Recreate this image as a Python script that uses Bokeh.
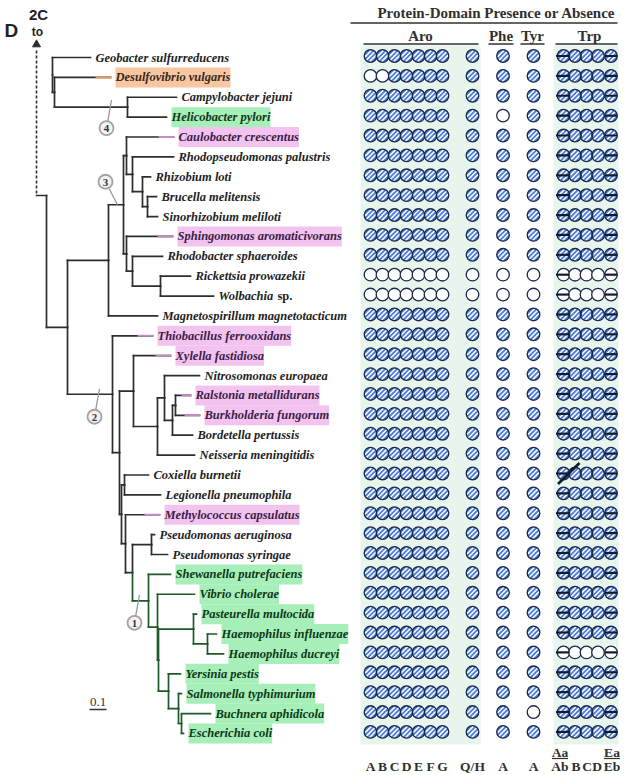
import math
from bokeh.plotting import figure
from bokeh.models import Range1d
from bokeh.core.properties import value
from bokeh.embed import file_html
from bokeh.resources import INLINE

# ---------------- data ----------------
SPECIES = [
    "Geobacter sulfurreducens", "Desulfovibrio vulgaris", "Campylobacter jejuni", "Helicobacter pylori",
    "Caulobacter crescentus", "Rhodopseudomonas palustris", "Rhizobium loti", "Brucella melitensis",
    "Sinorhizobium meliloti", "Sphingomonas aromaticivorans", "Rhodobacter sphaeroides", "Rickettsia prowazekii",
    "Wolbachia sp.", "Magnetospirillum magnetotacticum", "Thiobacillus ferrooxidans", "Xylella fastidiosa",
    "Nitrosomonas europaea", "Ralstonia metallidurans", "Burkholderia fungorum", "Bordetella pertussis",
    "Neisseria meningitidis", "Coxiella burnetii", "Legionella pneumophila", "Methylococcus capsulatus",
    "Pseudomonas aeruginosa", "Pseudomonas syringae", "Shewanella putrefaciens", "Vibrio cholerae",
    "Pasteurella multocida", "Haemophilus influenzae", "Haemophilus ducreyi", "Yersinia pestis",
    "Salmonella typhimurium", "Buchnera aphidicola", "Escherichia coli",
]
HILITE = [
    "", "orange", "", "green",
    "pink", "", "", "",
    "", "pink", "", "",
    "", "", "pink", "pink",
    "", "pink", "pink", "",
    "", "", "", "pink",
    "", "", "green", "green",
    "green", "green", "green", "green",
    "green", "green", "green",
]
# x (tree units = px) where each terminal branch ends
TIP_X = [
    90, 110, 176, 166,
    173, 173, 150, 156,
    157, 172, 162, 190,
    213, 157, 152, 170,
    199, 190, 199, 192,
    194, 148, 160, 159,
    154, 167, 170, 194,
    196, 216, 223, 180,
    181, 210, 183,
]
# internal nodes: (name, x, children)
NODES = [
    ("n_geo", 52, ["Geobacter sulfurreducens", "n_des"]),
    ("n_des", 54, ["Desulfovibrio vulgaris", "n_eps"]),
    ("n_eps", 127, ["Campylobacter jejuni", "Helicobacter pylori"]),
    ("n_main", 67, ["n_alpha", "n_bg"]),
    ("n_alpha", 108, ["n_a2", "Magnetospirillum magnetotacticum"]),
    ("n_a2", 123, ["n_caul", "n_sph"]),
    ("n_caul", 126, ["Caulobacter crescentus", "n_rhodops"]),
    ("n_rhodops", 132, ["Rhodopseudomonas palustris", "n_rhiz"]),
    ("n_rhiz", 142, ["Rhizobium loti", "n_bruc"]),
    ("n_bruc", 147, ["Brucella melitensis", "Sinorhizobium meliloti"]),
    ("n_sph", 126, ["Sphingomonas aromaticivorans", "n_rhodob"]),
    ("n_rhodob", 132, ["Rhodobacter sphaeroides", "n_rick"]),
    ("n_rick", 160, ["Rickettsia prowazekii", "Wolbachia sp."]),
    ("n_bg", 112, ["Thiobacillus ferrooxidans", "n_x"]),
    ("n_x", 119, ["n_xyl", "n_g"]),
    ("n_xyl", 133, ["Xylella fastidiosa", "n_nit2"]),
    ("n_nit2", 157, ["n_b1", "Neisseria meningitidis"]),
    ("n_b1", 164, ["Nitrosomonas europaea", "n_b2"]),
    ("n_b2", 172, ["n_ral", "Bordetella pertussis"]),
    ("n_ral", 175, ["Ralstonia metallidurans", "Burkholderia fungorum"]),
    ("n_g", 121, ["n_cox", "n_meth"]),
    ("n_cox", 124, ["Coxiella burnetii", "Legionella pneumophila"]),
    ("n_meth", 125, ["Methylococcus capsulatus", "n_ps_gam"]),
    ("n_ps_gam", 132, ["n_pseudo", "n_gam"]),
    ("n_pseudo", 151, ["Pseudomonas aeruginosa", "Pseudomonas syringae"]),
    ("n_gam", 148, ["Shewanella putrefaciens", "n_g2"]),
    ("n_g2", 157, ["Vibrio cholerae", "n_g3"]),
    ("n_g3", 158, ["n_past", "n_ent"]),
    ("n_past", 193, ["Pasteurella multocida", "n_haem"]),
    ("n_haem", 207, ["Haemophilus influenzae", "Haemophilus ducreyi"]),
    ("n_ent", 168, ["Yersinia pestis", "n_ent2"]),
    ("n_ent2", 178, ["Salmonella typhimurium", "n_ec"]),
    ("n_ec", 181, ["Buchnera aphidicola", "Escherichia coli"]),
]
ROOT_CHILD = "n_main"
GREEN_CLADE = "n_gam"
DOTTED_TIPS = ["Buchnera aphidicola"]
MARK_TEXT = ["4", "3", "2", "1"]
MARK_NODE = ["n_eps", "n_a2", "n_bg", "n_gam"]
SCALE_VALUE = 0.1
PX_PER_UNIT = 170

# presence (1) / absence (0) of protein domains
ARO = [
    "1111111", "0011111", "1111111", "1111111", "1111111", "1111111", "1111111",
    "1111111", "1111111", "1111111", "1111111", "0000000", "0000000", "1111111",
    "1111111", "1111111", "1111111", "1111111", "1111111", "1111111", "1111111",
    "1111111", "1111111", "1111111", "1111111", "1111111", "1111111", "1111111",
    "1111111", "1111111", "1111111", "1111111", "1111111", "1111111", "1111111",
]
QH = ["1", "1", "1", "1", "1", "1", "1", "1", "1", "1", "1", "0", "0", "1", "1", "1", "1", "1",
      "1", "1", "1", "1", "1", "1", "1", "1", "1", "1", "1", "1", "1", "1", "1", "1", "1"]
PHE = ["1", "1", "1", "0", "1", "1", "1", "1", "1", "1", "1", "0", "0", "1", "1", "1", "1", "1",
       "1", "1", "1", "1", "1", "1", "1", "1", "1", "1", "1", "1", "1", "1", "1", "1", "1"]
TYR = ["1", "1", "1", "1", "1", "1", "1", "1", "1", "1", "1", "0", "0", "1", "1", "1", "1", "1",
       "1", "1", "1", "1", "1", "1", "1", "1", "1", "1", "1", "1", "1", "1", "1", "0", "1"]
TRP = [
    "11111", "11111", "11111", "11111", "11111", "11111", "11111",
    "11111", "11111", "11111", "11111", "00000", "00000", "11111",
    "11111", "11111", "11111", "11111", "11111", "11111", "11111",
    "11111", "11111", "11111", "11111", "11111", "11111", "11111",
    "11111", "11111", "00000", "11111", "11111", "11111", "11111",
]
TRP_SPLIT = [0, 4]          # Trp columns made of two parts (Aa/Ab, Ea/Eb)
PSEUDO = ["Coxiella burnetii"]
ARO_LABELS = ["A", "B", "C", "D", "E", "F", "G"]
QH_LABEL = "Q/H"
PHE_LABEL = "A"
TYR_LABEL = "A"
TRP_LABELS = ["Aa/Ab", "B", "C", "D", "Ea/Eb"]
GROUPS = ["Aro", "Phe", "Tyr", "Trp"]
TITLE = "Protein-Domain Presence or Absence"

# ---------------- layout / style ----------------
W, H = 625, 775
ROW0, ROW_STEP = 57.0, 19.88
ARO_X = [370, 382, 394, 406, 418, 430, 442]
QH_X = 472
PHE_X = 502.5
TYR_X = 533
TRP_X = [563, 574.5, 586, 597.5, 610.5]
TRP_LAB_DX = [-3.5, 1, 0.5, -1, 1]
CIRCLE_DY = -1.5
R_OUT = 6.3
R_IN = 5.6
STRIPES = [-3.3, 0.0, 3.3]
TAIL = 15
ROOT_X, LINK_X, LINK_Y = 46, 36, 195
MARK_OFF = [(-21, 21, -16, -7), (-18, -23, -6, 0), (-18, 22.5, -13, -5.5), (-14, 22, -9, -6)]

LINE = "#2d2d2d"
GREEN_LINE = "#1d5a2a"
HL = {"orange": "#f8c6a0", "green": "#a6efb9", "pink": "#f3c3ef"}
HL_TAIL = {"orange": "#e39a68", "pink": "#c68ac4"}
TXT = {"": "#1e1e1e", "orange": "#3a281a", "green": "#0e3816", "pink": "#3a1d48"}
BLUE = "#4b7edb"
EDGE = "#1b2747"
PANEL = "#e7f5ed"
SERIF = value("Liberation Serif")
SANS = value("Liberation Sans")

p = figure(width=W, height=H, x_range=Range1d(0, W), y_range=Range1d(H, 0),
           output_backend="svg", toolbar_location=None, min_border=0,
           x_axis_type=None, y_axis_type=None)
p.grid.visible = False
p.outline_line_color = None
p.background_fill_color = "white"

# background panels
p.quad(left=[360, 553], right=[480, 618], top=[45, 45], bottom=[744, 744],
       fill_color=PANEL, line_color=None)

# ---------------- tree ----------------
row_of = {s: i for i, s in enumerate(SPECIES)}
tipx = dict(zip(SPECIES, TIP_X))
nx = {n: x for n, x, _ in NODES}
nch = {n: ch for n, _, ch in NODES}
parent = {c: n for n, _, ch in NODES for c in ch}


def ry(i):
    return ROW0 + i * ROW_STEP


def ny(n):
    if n in row_of:
        return ry(row_of[n])
    c = nch[n]
    return (ny(c[0]) + ny(c[-1])) / 2


def endx(n):
    return tipx[n] if n in row_of else nx[n]


def desc(n):
    out = [n]
    for c in nch.get(n, []):
        out += desc(c)
    return out


green = set(desc(GREEN_CLADE))
segs = {}


def add(x0, y0, x1, y1, col=LINE, dash="solid"):
    d = segs.setdefault((col, dash), ([], [], [], []))
    d[0].append(x0); d[1].append(y0); d[2].append(x1); d[3].append(y1)


for n, x, ch in NODES:
    y = ny(n)
    for c in ch:
        cy = ny(c)
        col = GREEN_LINE if c in green else LINE
        dash = "dotted" if c in DOTTED_TIPS else "solid"
        add(x, y, x, cy, col, dash)
        add(x, cy, endx(c), cy, col, dash)

# root connecting to panel 2C
my = ny(ROOT_CHILD)
add(LINK_X, LINK_Y, ROOT_X, LINK_Y)
add(ROOT_X, LINK_Y, ROOT_X, my)
add(ROOT_X, my, nx[ROOT_CHILD], my)

for (col, dash), (a, b, c, d) in segs.items():
    p.segment(x0=a, y0=b, x1=c, y1=d, line_color=col, line_width=1.7,
              line_dash=("1 1" if dash == "dotted" else "solid"), line_cap="square")

# highlighter tails on terminal branches
tx0, tx1, tyy, tcol = [], [], [], []
for i, h in enumerate(HILITE):
    if h in HL_TAIL:
        start = max(TIP_X[i] - TAIL, nx[parent[SPECIES[i]]] + 6)
        tx0.append(start); tx1.append(TIP_X[i] + 1); tyy.append(ry(i)); tcol.append(HL_TAIL[h])
p.segment(x0=tx0, y0=tyy, x1=tx1, y1=tyy, line_color=tcol, line_width=2)

p.segment(x0=[LINK_X], y0=[LINK_Y - 2], x1=[LINK_X], y1=[48], line_color=LINE,
          line_width=1.6, line_dash="3 2")
p.scatter(x=[LINK_X], y=[44], marker="triangle", size=8, fill_color=LINE, line_color=LINE)

# circled node marks
for t, n, (cdx, cdy, pdx, pdy) in zip(MARK_TEXT, MARK_NODE, MARK_OFF):
    bx, by = nx[n], ny(n)
    cx, cy = bx + cdx, by + cdy
    ex, ey = bx + pdx, by + pdy
    vx, vy = ex - cx, ey - cy
    L = (vx * vx + vy * vy) ** 0.5
    p.segment(x0=[cx + vx / L * 7], y0=[cy + vy / L * 7], x1=[ex], y1=[ey],
              line_color="#9a9a9a", line_width=1.3)
    p.scatter(x=[cx], y=[cy], size=14, fill_color="#f3f3f3", line_color="#a3a3a3", line_width=1.8)
    p.text(x=[cx], y=[cy + 0.5], text=[t], text_align="center", text_baseline="middle",
           text_font=SERIF, text_font_style="bold", text_font_size="11px", text_color="#333333")

# species labels
plain = dict(x=[], y=[], t=[], c=[])
hil = dict(x=[], y=[], t=[], c=[], bg=[])
sp_extra = dict(x=[], y=[])
for i, s in enumerate(SPECIES):
    name = s
    if s.endswith(" sp."):
        name = s[:-4]
        sp_extra["x"].append(TIP_X[i] + 5 + 59)
        sp_extra["y"].append(ry(i))
    h = HILITE[i]
    if h:
        hil["x"].append(TIP_X[i] + 5); hil["y"].append(ry(i)); hil["t"].append(name)
        hil["c"].append(TXT[h]); hil["bg"].append(HL[h])
    else:
        plain["x"].append(TIP_X[i] + 5); plain["y"].append(ry(i)); plain["t"].append(name)
        plain["c"].append(TXT[h])

common = dict(text_font=SERIF, text_font_style="bold italic", text_font_size="12.5px",
              text_baseline="middle", text_align="left")
p.text(x=plain["x"], y=plain["y"], text=plain["t"], text_color=plain["c"], **common)
p.text(x=hil["x"], y=hil["y"], text=hil["t"], text_color=hil["c"],
       background_fill_color=hil["bg"], padding=(0, 3), **common)
p.text(x=sp_extra["x"], y=sp_extra["y"], text=["sp."] * len(sp_extra["x"]), text_color=TXT[""],
       text_font=SERIF, text_font_style="bold", text_font_size="12.5px",
       text_baseline="middle", text_align="left")

# ---------------- presence / absence matrix ----------------
pres = dict(x=[], y=[])
absn = dict(x=[], y=[])
for vals, xs in [(ARO, ARO_X), (QH, [QH_X]), (PHE, [PHE_X]), (TYR, [TYR_X]), (TRP, TRP_X)]:
    for i, srow in enumerate(vals):
        for j, ch in enumerate(srow):
            d = pres if ch == "1" else absn
            d["x"].append(xs[j]); d["y"].append(ry(i) + CIRCLE_DY)

# present: blue disc with white diagonal stripes
p.scatter(x=pres["x"], y=pres["y"], size=2 * R_OUT, fill_color=BLUE, line_color=None)
ux, uy = 1 / math.sqrt(2), -1 / math.sqrt(2)   # "/" direction on screen
nxv, nyv = 1 / math.sqrt(2), 1 / math.sqrt(2)
stx0, sty0, stx1, sty1 = [], [], [], []
for cx, cy in zip(pres["x"], pres["y"]):
    for dd in STRIPES:
        half = math.sqrt(max(R_IN * R_IN - dd * dd, 0))
        mx, mmy = cx + dd * nxv, cy + dd * nyv
        stx0.append(mx - half * ux); sty0.append(mmy - half * uy)
        stx1.append(mx + half * ux); sty1.append(mmy + half * uy)
p.segment(x0=stx0, y0=sty0, x1=stx1, y1=sty1, line_color="white", line_width=1.5)
p.scatter(x=pres["x"], y=pres["y"], size=2 * R_OUT, fill_color=None, line_color=EDGE, line_width=1.3)
p.scatter(x=absn["x"], y=absn["y"], size=2 * R_OUT, fill_color="white", line_color=EDGE, line_width=1.3)

sx0, sx1, sy = [], [], []
for i in range(len(SPECIES)):
    for k in TRP_SPLIT:
        xc = TRP_X[k]
        sx0.append(xc - (7.5 if k == 0 else 6)); sx1.append(xc + 6); sy.append(ry(i) + CIRCLE_DY)
p.segment(x0=sx0, y0=sy, x1=sx1, y1=sy, line_color="#141a2e", line_width=2.2)

for s in PSEUDO:
    yy = ry(row_of[s]) + CIRCLE_DY
    p.segment(x0=[TRP_X[0] - 5.5], y0=[yy + 10.5], x1=[TRP_X[1] + 4.5], y1=[yy - 10.5],
              line_color="#141a2e", line_width=2.6)

# ---------------- headers ----------------
HCOL = "#303030"
p.text(x=[496], y=[12], text=[TITLE], text_align="center", text_baseline="middle",
       text_font=SERIF, text_font_style="bold", text_font_size="15px", text_color=HCOL)
p.segment(x0=[350], y0=[22.5], x1=[617], y1=[22.5], line_color=HCOL, line_width=1.6)
grp_x = [420, 500.5, 532, 589]
grp_l = [363, 488, 520, 555]
grp_r = [478, 513, 544, 617]
p.text(x=grp_x, y=[35] * 4, text=GROUPS, text_align="center", text_baseline="middle",
       text_font=SERIF, text_font_style="bold", text_font_size="15px", text_color=HCOL)
p.segment(x0=grp_l, y0=[43.5] * 4, x1=grp_r, y1=[43.5] * 4, line_color=HCOL, line_width=1.6)

# bottom column labels
bx, bt = [], []
bx += ARO_X; bt += ARO_LABELS
bx += [QH_X, PHE_X, TYR_X]; bt += [QH_LABEL, PHE_LABEL, TYR_LABEL]
top_x, top_t, und = [], [], []
for xc, dx, lab in zip(TRP_X, TRP_LAB_DX, TRP_LABELS):
    xx = xc + dx
    if "/" in lab:
        a, b = lab.split("/")
        top_x.append(xx); top_t.append(a); bx.append(xx); bt.append(b); und.append(xx)
    else:
        bx.append(xx); bt.append(lab)
lab_kw = dict(text_align="center", text_baseline="middle", text_font=SERIF,
              text_font_style="bold", text_font_size="13.5px", text_color=HCOL)
p.text(x=bx, y=[765.5] * len(bx), text=bt, **lab_kw)
p.text(x=top_x, y=[751.5] * len(top_x), text=top_t, **lab_kw)
p.segment(x0=[u - 8 for u in und], y0=[758] * len(und), x1=[u + 8 for u in und],
          y1=[758] * len(und), line_color=HCOL, line_width=1.2)

# scale bar
sl = SCALE_VALUE * PX_PER_UNIT
p.segment(x0=[89], y0=[709], x1=[89 + sl], y1=[709], line_color="#333333", line_width=1.3)
p.text(x=[89 + sl / 2], y=[701.5], text=[str(SCALE_VALUE)], text_align="center",
       text_baseline="middle", text_font=SERIF, text_font_size="13px", text_color="#333333")

# panel letter and link label
p.text(x=[4], y=[30], text=["D"], text_align="left", text_baseline="middle",
       text_font=SANS, text_font_style="bold", text_font_size="19px", text_color="#222222")
p.text(x=[38], y=[14], text=["2C"], text_align="center", text_baseline="middle",
       text_font=SANS, text_font_style="bold", text_font_size="15px", text_color="#222222")
p.text(x=[37], y=[31], text=["to"], text_align="center", text_baseline="middle",
       text_font=SANS, text_font_style="bold", text_font_size="12px", text_color="#222222")

open("out.html", "w").write(file_html(p, INLINE))
